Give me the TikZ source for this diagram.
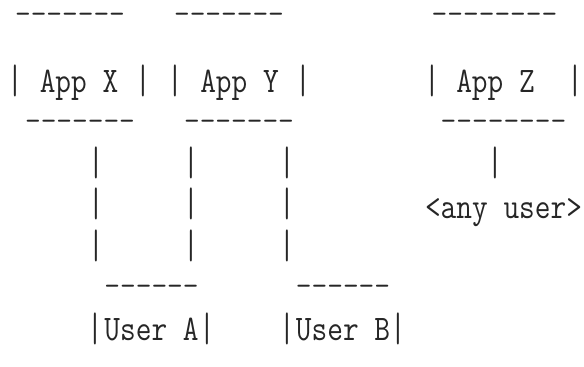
\documentclass[tikz,border=0pt]{standalone}
\usepackage{fontspec}
\tikzset{
  tt/.style={font=\fontsize{30.48}{36}\selectfont\ttfamily, inner sep=0pt, outer sep=0pt, text=black!85},
  word/.style={tt, anchor=base},
  bar/.style={tt, anchor=center},
  rule/.style={tt, anchor=base},
}
\newcommand{\tallbar}{\scalebox{1}[1.35]{|}}
\newcommand{\tallword}[1]{\scalebox{1}[1.18]{#1}}
\begin{document}
\begin{tikzpicture}[x=1pt,y=-1pt]
\useasboundingbox (0,0) rectangle (584,367);
% top rules
\node[rule] (tx) at (70,23) {–––––––};
\node[rule] (ty) at (229,23) {–––––––};
\node[rule] (tz) at (494.5,23) {––––––––};
% app row
\node[bar] (xl) at (15,81) {\tallbar};
\node[word] (appx) at (79,92) {\tallword{App X}};
\node[bar] (xr) at (143,81) {\tallbar};
\node[bar] (yl) at (175,81) {\tallbar};
\node[word] (appy) at (239.5,92) {\tallword{App Y}};
\node[bar] (yr) at (303,81) {\tallbar};
\node[bar] (zl) at (432,81) {\tallbar};
\node[word] (appz) at (495.5,92) {\tallword{App Z}};
\node[bar] (zr) at (575,81) {\tallbar};
% bottom rules of apps
\node[rule] (bx) at (80,130) {–––––––};
\node[rule] (by) at (239,130) {–––––––};
\node[rule] (bz) at (503.5,130) {––––––––};
% vertical links
\foreach \r/\yy in {1/162.5,2/204,3/246}{
  \node[bar] (la\r) at (96,\yy) {\tallbar};
  \node[bar] (lb\r) at (191,\yy) {\tallbar};
  \node[bar] (lc\r) at (287,\yy) {\tallbar};
}
\node[bar] (lz) at (495,162.5) {\tallbar};
\node[word] (any) at (503.5,218) {\tallword{<any user>}};
% user boxes
\node[rule] (ua) at (151.5,295) {––––––};
\node[rule] (ub) at (343,295) {––––––};
\node[bar] (ual) at (95,329) {\tallbar};
\node[word] (usera) at (151.5,340) {\tallword{User A}};
\node[bar] (uar) at (207,329) {\tallbar};
\node[bar] (ubl) at (287,329) {\tallbar};
\node[word] (userb) at (343,340) {\tallword{User B}};
\node[bar] (ubr) at (398,329) {\tallbar};
\end{tikzpicture}
\end{document}
